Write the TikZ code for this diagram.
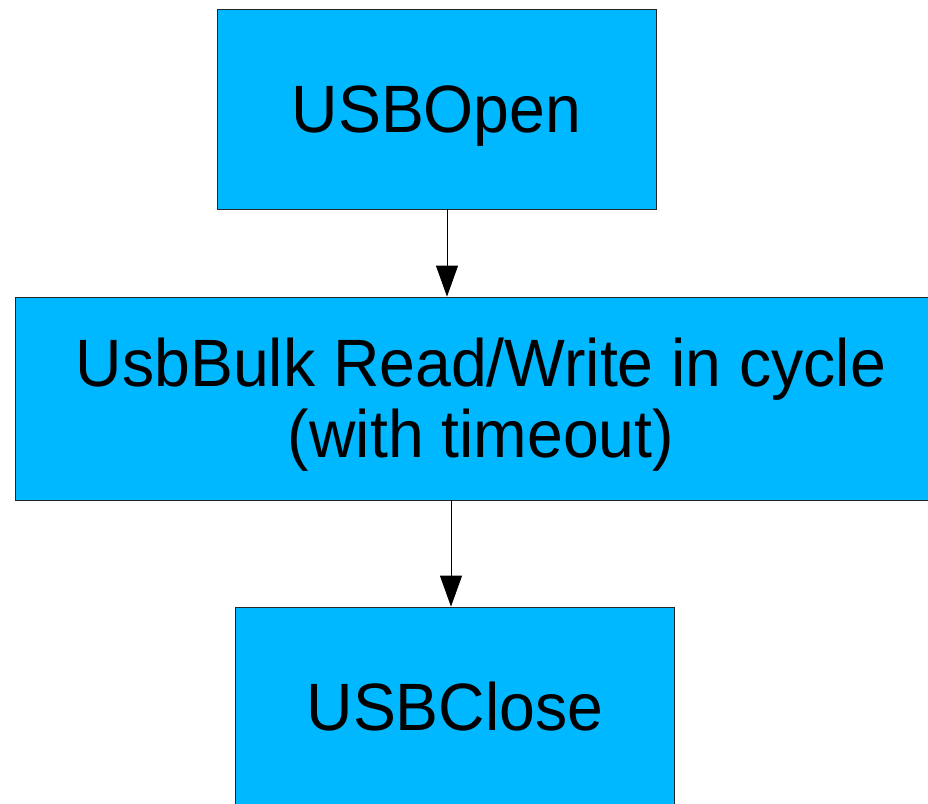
\documentclass[tikz,border=0pt]{standalone}
\usepackage{fontspec}
\setmainfont{Liberation Sans}[FakeStretch=0.96]
\usetikzlibrary{arrows.meta}
\definecolor{boxblue}{RGB}{0,184,255}
\tikzset{
  stepbox/.style={draw=black!85, fill=boxblue, line width=0.8pt, rectangle, inner sep=0pt,
    align=center, font=\fontsize{67}{71}\selectfont, text height=58pt, text depth=12pt},
  flow/.style={draw=black, line width=0.8pt, -{Triangle[length=31pt,width=22pt]}}
}
\begin{document}
\begin{tikzpicture}[x=1pt,y=-1pt]
      \useasboundingbox (0,0) rectangle (928,803);
      \clip (0,0) rectangle (928,803);
      \draw
        (436.5,109) node[stepbox, minimum width=439pt, minimum height=200pt] (open){USBOpen}
        (481,398.5) node[stepbox, minimum width=932pt, minimum height=203pt, text height=131pt, text depth=14pt] (bulk){UsbBulk Read/Write in cycle\\(with timeout)}
        (455,707) node[stepbox, minimum width=439pt, minimum height=200pt] (close){USBClose};
      \begin{scope}[flow]
        \draw (open.south -| 447,0) to (bulk.north -| 447,0);
        \draw (bulk.south -| 451,0) to (close.north -| 451,0);
      \end{scope}
    \end{tikzpicture}
\end{document}
